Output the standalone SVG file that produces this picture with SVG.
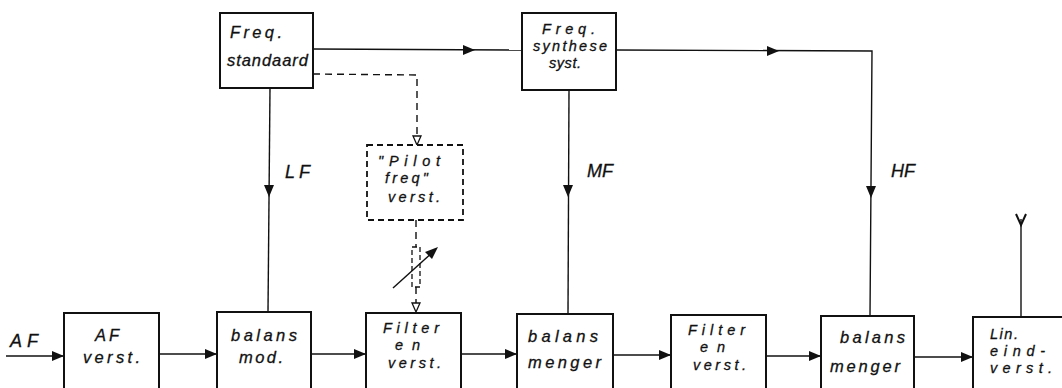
<svg xmlns="http://www.w3.org/2000/svg" width="1062" height="388" viewBox="0 0 1062 388">
<style>
.box{fill:#fff;stroke:#111;stroke-width:2}
.dbox{fill:#fff;stroke:#111;stroke-width:1.8;stroke-dasharray:6 4}
.ln{fill:none;stroke:#111;stroke-width:1.4}
.dl{fill:none;stroke:#111;stroke-width:1.4;stroke-dasharray:7 5}
.ah{fill:#111}
.oh{fill:#fff;stroke:#111;stroke-width:1.3}
text{font-family:"Liberation Sans",Arial,sans-serif;font-style:italic;font-size:16.5px;fill:#111;stroke:#111;stroke-width:0.3}
.sm{font-size:14.5px}
.lbl{font-size:18px}
</style>
<rect width="1062" height="388" fill="#fff"/>
<g id="connectors">
  <line class="ln" x1="6" y1="356" x2="64" y2="356"/>
  <polygon class="ah" points="64,356 52,351 52,361"/>
  <line class="ln" x1="159" y1="354" x2="217" y2="354"/>
  <polygon class="ah" points="217,354 205,349 205,359"/>
  <line class="ln" x1="311" y1="354" x2="366" y2="354"/>
  <polygon class="ah" points="366,354 354,349 354,359"/>
  <line class="ln" x1="461" y1="354" x2="517" y2="354"/>
  <polygon class="ah" points="517,354 505,349 505,359"/>
  <line class="ln" x1="613" y1="355" x2="671" y2="355"/>
  <polygon class="ah" points="671,355 659,350 659,360"/>
  <line class="ln" x1="766" y1="356" x2="821" y2="356"/>
  <polygon class="ah" points="821,356 809,351 809,361"/>
  <line class="ln" x1="914" y1="357" x2="973" y2="357"/>
  <polygon class="ah" points="973,357 961,352 961,362"/>
  <line class="ln" x1="313" y1="49" x2="522" y2="50"/>
  <polygon class="ah" points="475,50 463,45 463,55"/>
  <polyline class="ln" points="616,50 872,51 870,316"/>
  <polygon class="ah" points="779,51 767,46 767,56"/>
  <polygon class="ah" points="871,198 866,186 876,186"/>
  <line class="ln" x1="270" y1="88" x2="268" y2="312"/>
  <polygon class="ah" points="269,197 264,185 274,185"/>
  <line class="ln" x1="569" y1="90" x2="568" y2="314"/>
  <polygon class="ah" points="568,197 563,185 573,185"/>
  <polyline class="dl" points="313,74 417,75 417,142"/>
  <polygon class="oh" points="417,145 413,136 421,136"/>
  <line class="dl" x1="416" y1="220" x2="416" y2="247"/>
  <rect x="412" y="247" width="8" height="40" fill="none" stroke="#111" stroke-width="1.3" stroke-dasharray="5 3"/>
  <line class="dl" x1="416" y1="287" x2="416" y2="303"/>
  <polygon class="oh" points="416,312 412,303 420,303"/>
  <line class="ln" x1="393" y1="288" x2="434" y2="251"/>
  <polygon class="ah" points="438,247 425,252 432,259"/>
  <line class="ln" x1="1021" y1="219" x2="1021" y2="317"/>
  <polyline fill="none" stroke="#111" stroke-width="2" points="1016,214 1021,225 1026,214"/>
</g>
<g id="freq-standaard">
  <rect class="box" x="220" y="13" width="93" height="75"/>
  <text x="230" y="38" textLength="52" lengthAdjust="spacing">Freq.</text>
  <text x="227" y="66" textLength="81" lengthAdjust="spacing">standaard</text>
</g>
<g id="freq-synthese">
  <rect class="box" x="522" y="13" width="94" height="77"/>
  <text class="sm" x="542" y="34" textLength="53" lengthAdjust="spacing">Freq.</text>
  <text class="sm" x="533" y="51" textLength="74" lengthAdjust="spacing">synthese</text>
  <text class="sm" x="549" y="68" textLength="32" lengthAdjust="spacing">syst.</text>
</g>
<g id="pilot">
  <rect class="dbox" x="367" y="145" width="96" height="75"/>
  <text class="sm" x="378" y="166" textLength="62" lengthAdjust="spacing">"Pilot</text>
  <text class="sm" x="385" y="183" textLength="43" lengthAdjust="spacing">freq"</text>
  <text class="sm" x="388" y="202" textLength="52" lengthAdjust="spacing">verst.</text>
</g>
<g id="af-verst">
  <rect class="box" x="64" y="313" width="95" height="80"/>
  <text x="95" y="341" textLength="24" lengthAdjust="spacing">AF</text>
  <text x="83" y="363" textLength="57" lengthAdjust="spacing">verst.</text>
</g>
<g id="balans-mod">
  <rect class="box" x="217" y="312" width="94" height="81"/>
  <text x="231" y="341" textLength="66" lengthAdjust="spacing">balans</text>
  <text x="239" y="363" textLength="44" lengthAdjust="spacing">mod.</text>
</g>
<g id="filter1">
  <rect class="box" x="366" y="313" width="95" height="80"/>
  <text class="sm" x="383" y="333" textLength="56" lengthAdjust="spacing">Filter</text>
  <text class="sm" x="395" y="350" textLength="25" lengthAdjust="spacing">en</text>
  <text class="sm" x="388" y="368" textLength="53" lengthAdjust="spacing">verst.</text>
</g>
<g id="balans-menger1">
  <rect class="box" x="517" y="314" width="96" height="79"/>
  <text x="528" y="342" textLength="70" lengthAdjust="spacing">balans</text>
  <text x="528" y="368" textLength="73" lengthAdjust="spacing">menger</text>
</g>
<g id="filter2">
  <rect class="box" x="671" y="315" width="95" height="78"/>
  <text class="sm" x="688" y="335" textLength="57" lengthAdjust="spacing">Filter</text>
  <text class="sm" x="700" y="352" textLength="25" lengthAdjust="spacing">en</text>
  <text class="sm" x="693" y="370" textLength="53" lengthAdjust="spacing">verst.</text>
</g>
<g id="balans-menger2">
  <rect class="box" x="821" y="316" width="93" height="77"/>
  <text x="840" y="343" textLength="65" lengthAdjust="spacing">balans</text>
  <text x="830" y="372" textLength="70" lengthAdjust="spacing">menger</text>
</g>
<g id="lin-eindverst">
  <rect class="box" x="973" y="317" width="95" height="76"/>
  <text class="sm" x="990" y="339" textLength="28" lengthAdjust="spacing">Lin.</text>
  <text class="sm" x="990" y="356" textLength="55" lengthAdjust="spacing">eind-</text>
  <text class="sm" x="990" y="373" textLength="62" lengthAdjust="spacing">verst.</text>
</g>
<g id="labels">
  <text class="lbl" x="10" y="347" textLength="28" lengthAdjust="spacing">AF</text>
  <text class="lbl" x="285" y="178" textLength="25" lengthAdjust="spacing">LF</text>
  <text class="lbl" x="587" y="177" textLength="26" lengthAdjust="spacing">MF</text>
  <text class="lbl" x="891" y="177">HF</text>
</g>
</svg>
